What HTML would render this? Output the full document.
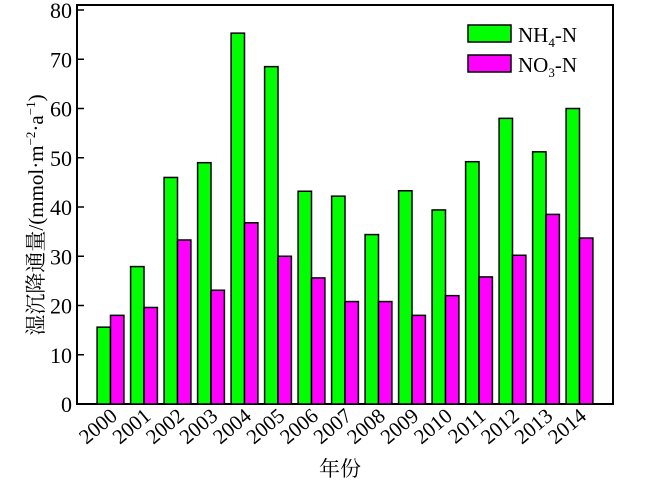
<!DOCTYPE html>
<html><head><meta charset="utf-8"><style>
body{margin:0;background:#fff}
svg text{font-family:"Liberation Serif","Noto Serif CJK SC",serif;fill:#000}
</style></head><body>
<svg id="chart" width="650" height="486" xmlns="http://www.w3.org/2000/svg">
<rect x="77" y="5" width="536" height="399" fill="none" stroke="#000" stroke-width="2"/>
<g id="yaxis"></g>
<g id="xaxis"></g>
<g id="bars"></g>
<text transform="translate(43,215) rotate(-90)" text-anchor="middle" font-size="21">湿沉降通量/(mmol·m<tspan dy="-8" font-size="13">−2</tspan><tspan dy="8">·a</tspan><tspan dy="-8" font-size="13">−1</tspan><tspan dy="8">)</tspan></text>
<text x="340" y="476" text-anchor="middle" font-size="21">年份</text>
<g>
<g>
<rect x="468" y="25" width="43" height="17" fill="#00ff00" stroke="#000" stroke-width="1.5"/>
<text x="518" y="42" font-size="21">NH<tspan dy="5" font-size="13">4</tspan><tspan dy="-5">-N</tspan></text>
</g>
<g>
<rect x="468" y="55" width="43" height="17" fill="#ff00ff" stroke="#000" stroke-width="1.5"/>
<text x="518" y="72" font-size="21">NO<tspan dy="5" font-size="13">3</tspan><tspan dy="-5">-N</tspan></text>
</g>
</g>
</svg>
<script>
const years=["2000","2001","2002","2003","2004","2005","2006","2007","2008","2009","2010","2011","2012","2013","2014"];
const nh4=[15.6,27.9,46,49,75.3,68.5,43.2,42.2,34.4,43.3,39.4,49.2,58,51.2,60];
const no3=[18,19.6,33.3,23.1,36.8,30,25.6,20.8,20.8,18,22,25.8,30.2,38.5,33.7];
const yTicks=[0,10,20,30,40,50,60,70,80];
const NS="http://www.w3.org/2000/svg";
const X0=77,X1=613,Y0=404,Y80=10,bw=13.4;
const step=(X1-X0)/(years.length+1);
function y(v){return Y0-(Y0-Y80)*v/80;}
function xc(i){return X0+step*(i+1);}
function mk(t,a,p){const e=document.createElementNS(NS,t);for(const k in a)e.setAttribute(k,a[k]);p.appendChild(e);return e;}
const ya=document.getElementById('yaxis'),xa=document.getElementById('xaxis'),bg=document.getElementById('bars');
yTicks.forEach(v=>{
 const l=mk('line',{x1:X0,x2:X0+7,y1:y(v),y2:y(v),stroke:'#000','stroke-width':1.5},ya);
 
 
 const t=mk('text',{x:X0-5,y:y(v)+8,'text-anchor':'end','font-size':22},ya);
 t.textContent=v;
 
 
});
years.forEach((yr,i)=>{
 const c=xc(i);
 const g=mk('rect',{x:c-bw,y:y(nh4[i]),width:bw,height:Y0-y(nh4[i]),fill:'#00ff00',stroke:'#000','stroke-width':1.5},bg);
 
 
 const m=mk('rect',{x:c,y:y(no3[i]),width:bw,height:Y0-y(no3[i]),fill:'#ff00ff',stroke:'#000','stroke-width':1.5},bg);
 
 
 const t=mk('text',{transform:`translate(${c+8},${Y0+14}) rotate(-40)`,'text-anchor':'end','font-size':21},xa);
 t.textContent=yr;
 
 
});
</script>
</body></html>
